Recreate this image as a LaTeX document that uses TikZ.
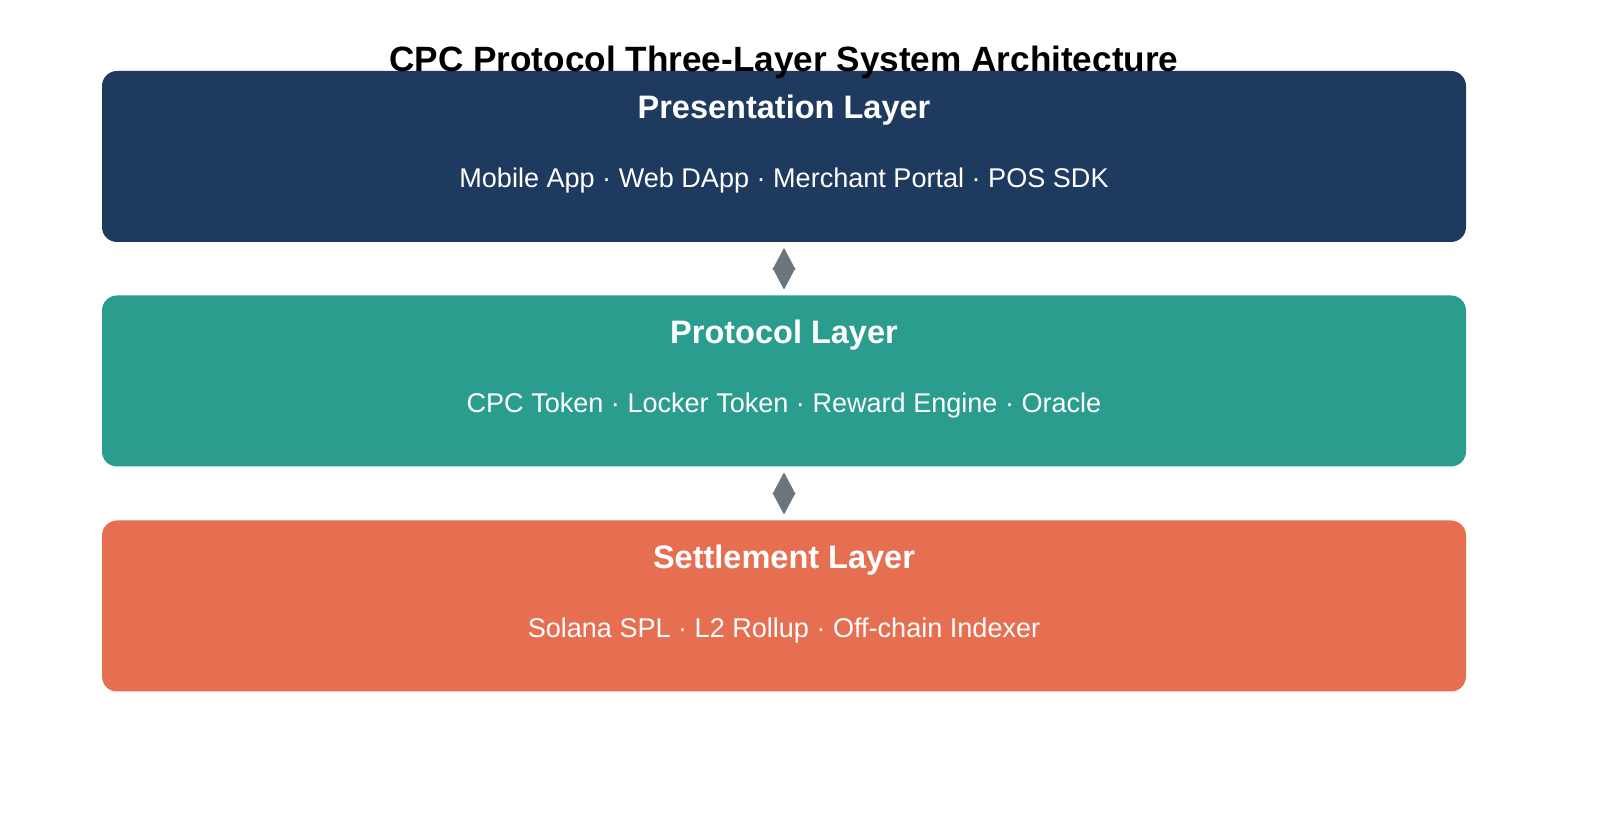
\documentclass[tikz,border=0pt]{standalone}
\usepackage{fontspec}
\setmainfont{Liberation Sans}
\usetikzlibrary{arrows.meta,positioning}
\definecolor{presblue}{HTML}{1F3A5F}
\definecolor{prototeal}{HTML}{2A9D8F}
\definecolor{settlered}{HTML}{E76F51}
\definecolor{linkgray}{HTML}{6C757D}
\tikzset{
	layer/.style = {rectangle, rounded corners=0.3cm, minimum width=27.28cm, minimum height=3.42cm, text=white, align=center},
	link/.style = {draw=linkgray, line width=0.5pt, {Triangle[length=0.44cm,width=0.46cm,round]}-{Triangle[length=0.44cm,width=0.46cm,round]}, shorten >=0.12cm, shorten <=0.12cm}
}
\begin{document}
\begin{tikzpicture}
\useasboundingbox (0,0) rectangle (32.2,16.6);
%----------------------------------------------------------------------------
% Layers
\node (pres) [layer, fill=presblue] at (15.68,13.47) {};
\node (proto) [layer, fill=prototeal] at (15.68,8.98) {};
\node (settle) [layer, fill=settlered] at (15.68,4.48) {};

\node (title) at (15.68,15.36) {\fontsize{20}{24}\selectfont\bfseries CPC Protocol Three-Layer System Architecture};

\node (presHead) [text=white] at (15.68,14.40) {\fontsize{18.5}{22}\selectfont\bfseries Presentation Layer};
\node (presBody) [text=white] at (15.68,12.98) {\fontsize{15.4}{18}\selectfont Mobile App · Web DApp · Merchant Portal · POS SDK};

\node (protoHead) [text=white] at (15.68,9.90) {\fontsize{18.5}{22}\selectfont\bfseries Protocol Layer};
\node (protoBody) [text=white] at (15.68,8.48) {\fontsize{15.4}{18}\selectfont CPC Token · Locker Token · Reward Engine · Oracle};

\node (settleHead) [text=white] at (15.68,5.40) {\fontsize{18.5}{22}\selectfont\bfseries Settlement Layer};
\node (settleBody) [text=white] at (15.68,3.98) {\fontsize{15.4}{18}\selectfont Solana SPL · L2 Rollup · Off-chain Indexer};

%----------------------------------------------------------------------------
% Links
\draw [link] (pres) -- (proto);
\draw [link] (proto) -- (settle);
\end{tikzpicture}
\end{document}
